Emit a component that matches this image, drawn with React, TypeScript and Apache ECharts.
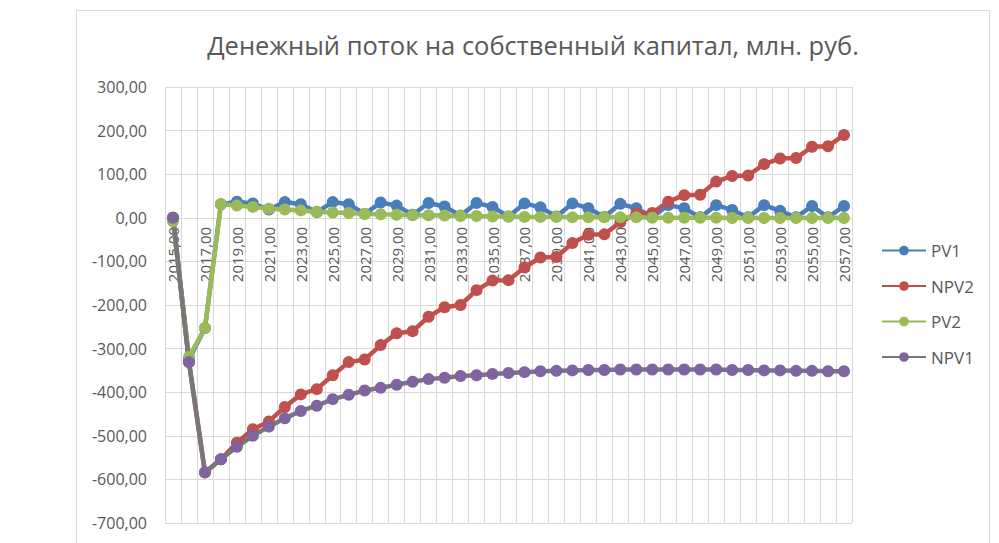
import React, { useEffect, useRef } from "react";
import * as echarts from "echarts";

const TITLE = "Денежный поток на собственный капитал, млн. руб.";

const years: number[] = [
  2015, 2016, 2017, 2018, 2019, 2020, 2021, 2022, 2023, 2024, 2025, 2026, 2027, 2028, 2029,
  2030, 2031, 2032, 2033, 2034, 2035, 2036, 2037, 2038, 2039, 2040, 2041, 2042, 2043, 2044,
  2045, 2046, 2047, 2048, 2049, 2050, 2051, 2052, 2053, 2054, 2055, 2056, 2057,
];

const pv1: number[] = [
  0, -325, -253, 31, 37, 33, 19, 36, 31, 13, 36, 31, 9, 35, 28,
  7, 34, 26, 5, 34, 25, 3, 33, 24, 3, 33, 22, 2, 32, 22,
  2, 29, 22, 1, 29, 18, 1, 29, 16, 1, 27, 1, 27,
];

const npv2: number[] = [
  0, -331, -584, -554, -516, -485, -467, -434, -405, -393, -361, -331, -325, -292, -265,
  -260, -227, -205, -200, -166, -144, -143, -114, -91, -90, -58, -39, -38, -10, 10,
  11, 37, 52, 53, 83, 96, 97, 123, 136, 137, 163, 164, 190,
];

const pv2: number[] = [
  -8, -319, -253, 31, 28, 25, 21, 19, 17, 14, 12, 11, 9, 8, 7,
  6, 6, 5, 4, 4, 3, 3, 2, 2, 2, 1, 1, 1, 1, 1,
  0, 0, 0, 0, 0, -0.5, -0.5, -0.5, -0.5, -0.5, -0.5, -0.5, -0.5,
];

const npv1: number[] = [
  0, -331, -584, -554, -525, -500, -479, -460, -443, -431, -416, -406, -396, -390, -383,
  -376, -370, -367, -363, -361, -358, -356, -354, -352, -351, -350, -349, -349, -348, -348,
  -348, -348, -348, -348, -348, -349, -349, -350, -350, -351, -351, -352, -352,
];

const Y_MIN = -700;
const Y_MAX = 300;

const FONT = "'Open Sans', 'Noto Sans', sans-serif";
const TXT = "#595959";
const GRID = "#d9d9d9";

const fmt = (v: number) => v.toFixed(2).replace(".", ",");

const GRID_TOP = 87;
const GRID_H = 436;

export default function App() {
  const ref = useRef<HTMLDivElement>(null);
  useEffect(() => {
    if (!ref.current) return;
    const chart = echarts.init(ref.current, null, { renderer: "svg" });
    const mk = (name: string, data: number[], line: string, marker: string) => ({
      name,
      type: "line",
      data,
      symbol: "circle",
      symbolSize: 12,
      showSymbol: true,
      showAllSymbol: true,
      lineStyle: { color: line, width: 4.5 },
      itemStyle: { color: marker },
      emphasis: { disabled: true },
    });
    // distance of the zero line above the plot bottom, so the category axis sits at 0
    const zeroOffset = (GRID_H * (0 - Y_MIN)) / (Y_MAX - Y_MIN);
    chart.setOption({
      animation: false,
      backgroundColor: "#ffffff",
      textStyle: { fontFamily: FONT },
      graphic: [
        {
          type: "rect",
          shape: { x: 76.5, y: 10.5, width: 913, height: 560 },
          style: { fill: "none", stroke: GRID, lineWidth: 1 },
          silent: true,
        },
        {
          type: "text",
          x: 533,
          y: 45,
          style: {
            text: TITLE,
            fontSize: 25.5,
            fontFamily: FONT,
            fill: TXT,
            textAlign: "center",
            textVerticalAlign: "middle",
          },
        },
      ],
      legend: {
        orient: "vertical",
        left: 876,
        top: 237,
        itemWidth: 44,
        itemHeight: 12,
        itemGap: 18.5,
        textStyle: { fontSize: 17, color: TXT, fontFamily: FONT },
        data: ["PV1", "NPV2", "PV2", "NPV1"],
      },
      grid: {
        left: 165,
        top: GRID_TOP,
        width: 687,
        height: GRID_H,
        containLabel: false,
        outerBoundsMode: "none",
      },
      xAxis: {
        type: "category",
        data: years,
        boundaryGap: true,
        offset: -zeroOffset,
        axisLine: { show: true, onZero: false, lineStyle: { color: GRID, width: 1 } },
        axisTick: { show: false },
        axisLabel: {
          interval: 1,
          rotate: 90,
          margin: 9,
          fontSize: 15,
          color: TXT,
          fontFamily: FONT,
          formatter: (v: string) => fmt(Number(v)),
        },
        splitLine: { show: true, interval: 0, lineStyle: { color: GRID, width: 1 } },
      },
      yAxis: {
        type: "value",
        min: Y_MIN,
        max: Y_MAX,
        interval: 100,
        axisLine: { show: false },
        axisTick: { show: false },
        axisLabel: {
          fontSize: 16,
          color: TXT,
          fontFamily: FONT,
          margin: 18,
          formatter: (v: number) => fmt(v),
        },
        splitLine: { show: true, lineStyle: { color: GRID, width: 1 } },
      },
      series: [
        mk("PV1", pv1, "#4a7ebb", "#4a7ebb"),
        mk("NPV2", npv2, "#c0504d", "#c0504d"),
        mk("PV2", pv2, "#9bbb59", "#9bbb59"),
        mk("NPV1", npv1, "#777777", "#8064a2"),
      ],
    });
    return () => chart.dispose();
  }, []);
  return (
    <div
      ref={ref}
      style={{ position: "fixed", left: 0, top: 0, width: 999, height: 543 }}
    />
  );
}
